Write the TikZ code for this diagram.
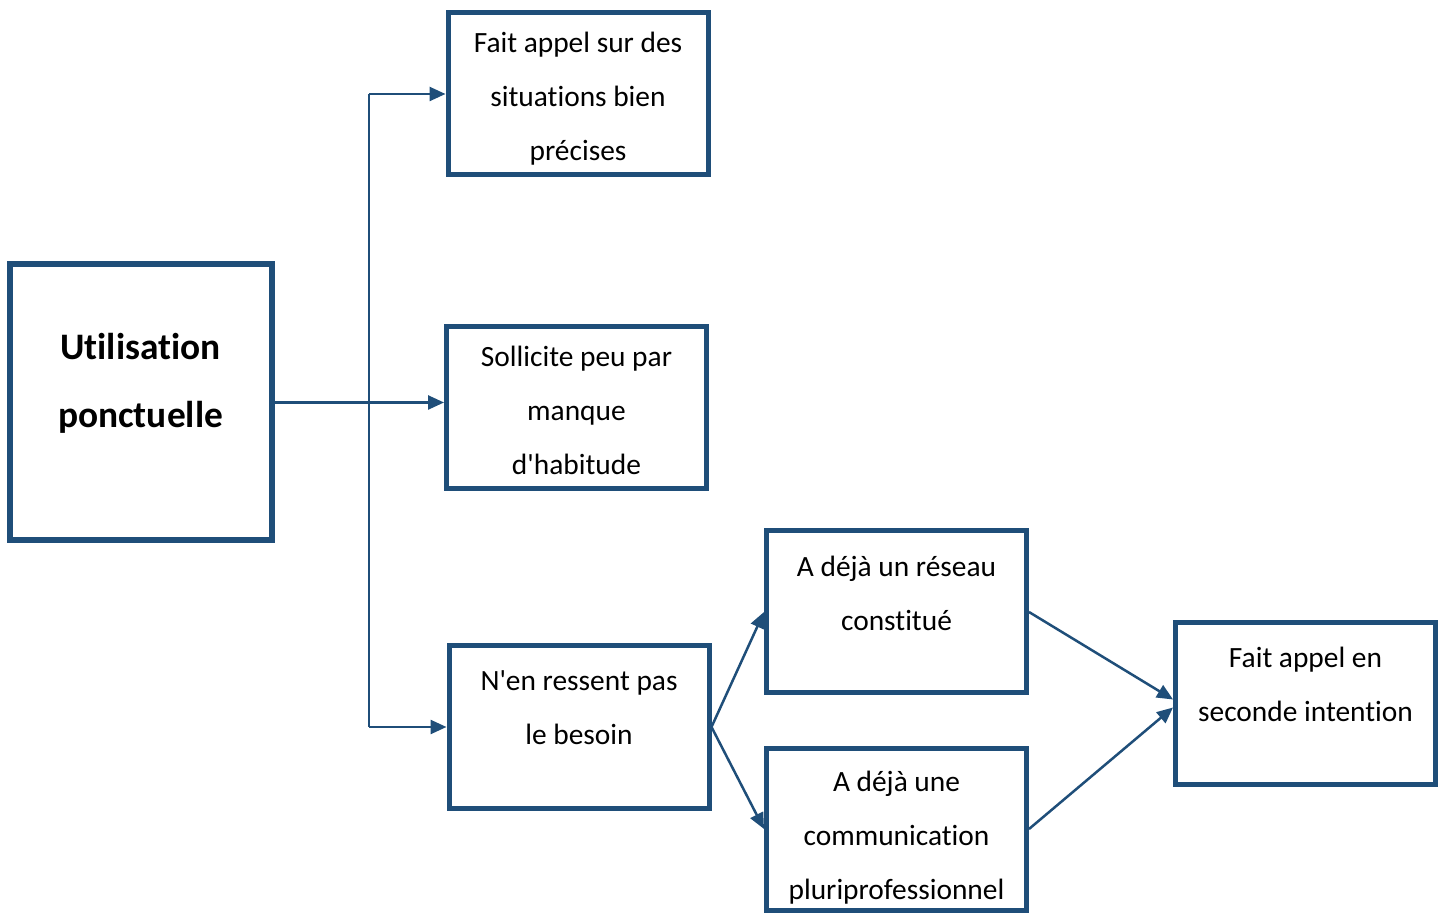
\documentclass[tikz,border=0pt]{standalone}
\usepackage{fontspec}
\setmainfont{Carlito}[Ligatures=NoCommon]
\usetikzlibrary{positioning, arrows.meta}
\definecolor{boxblue}{RGB}{31,78,121}

\begin{document}
\begin{tikzpicture}[x=0.5pt, y=-0.5pt,
        box/.style={draw=boxblue, line width=2.5pt, minimum width=130pt, minimum height=81pt,
            align=center, font=\fontsize{14.7}{27}\selectfont},
        link/.style={draw=boxblue, line width=1.25pt, -{Triangle[length=8pt, width=7pt]}}]
        \useasboundingbox (0,0) rectangle (1445,913);
        \node[box, line width=3pt, minimum width=131pt, minimum height=138pt,
            font=\bfseries\fontsize{18.7}{34}\selectfont] (main) at (140.5,402.5) {Utilisation\\ponctuelle\\[-12pt]\mbox{}};
        \node[box] (box1) at (578,94) {Fait appel sur des\\situations bien\\précises\\[-29pt]\mbox{}};
        \node[box] (box2) at (576.5,407.5) {Sollicite peu par\\manque\\d\textquotesingle habitude\\[-30pt]\mbox{}};
        \node[box] (box3) at (579,727) {N\textquotesingle en ressent pas\\le besoin\\[-8pt]\mbox{}};
        \node[box] (box4) at (896.5,612) {A déjà un réseau\\constitué\\[-8pt]\mbox{}};
        \node[box] (box5) at (896.5,829) {A déjà une\\communication\\pluriprofessionnel\\[-33pt]\mbox{}};
        \node[box] (box6) at (1305.5,703.5) {Fait appel en\\seconde intention\\[-8pt]\mbox{}};
        \coordinate (fork) at (369,402);
        \draw[link] (main.east) -- (main.east -| box2.west);
        \draw[draw=boxblue, line width=1.25pt] (fork |- box1.west) -- (fork |- box3.west);
        \foreach \b in {box1,box3}
            \draw[link] (fork |- \b.west) -- (\b.west);
        \foreach \b in {box4,box5}
            \draw[link] (box3.east) -- (\b.west);
        \draw[link] (box4.east) -- ([yshift=2pt]box6.west);
        \draw[link] (box5.east) -- ([yshift=-2pt]box6.west);
    \end{tikzpicture}
\end{document}
